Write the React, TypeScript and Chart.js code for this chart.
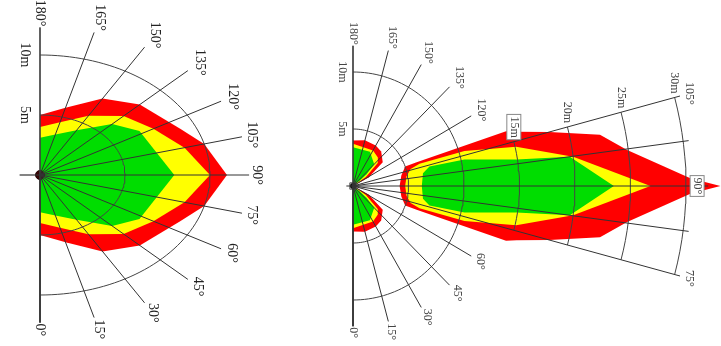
import React, { useEffect, useRef } from "react";
import { Chart, registerables } from "chart.js";

Chart.register(...registerables);

// ---------------- data (angles in degrees, 0° = down, 180° = up; distances in metres) ----------------
// Left diagram
const leftAngleTicks = [0, 15, 30, 45, 60, 75, 90, 105, 120, 135, 150, 165, 180];
const leftRingTicks = [5, 10];

const leftRedAngles = [180, 165, 150, 135, 115, 105, 90, 75, 65, 45, 30, 15, 0];
const leftRedRadii = [5.0, 5.8, 7.35, 8.3, 9.1, 10.0, 11.0, 10.0, 9.1, 8.3, 7.35, 5.8, 5.0];
const leftYellowAngles = [180, 165, 150, 135, 120, 105, 90, 75, 60, 45, 30, 15, 0];
const leftYellowRadii = [4.0, 4.55, 5.7, 6.95, 7.7, 8.8, 10.0, 8.8, 7.7, 6.95, 5.7, 4.55, 4.0];
const leftGreenAngles = [180, 165, 150, 135, 122, 90, 58, 45, 30, 15, 0];
const leftGreenRadii = [3.1, 3.5, 4.3, 6.0, 6.9, 7.9, 6.9, 6.0, 4.3, 3.5, 3.1];

// Right diagram
const rightNearAngleTicks = [0, 15, 30, 45, 60, 120, 135, 150, 165, 180];
const rightFarAngleTicks = [75, 105];
const rightFarGuideAngles = [82.5, 97.5];
const rightAxisAngle = [90];
const rightNearRingTicks = [5, 10];
const rightFarRingTicks = [15, 20, 25, 30];

const rightLobeRedAngles = [90, 102, 110, 110, 109.2, 107.9, 105, 101.4, 97.3, 91.3, 90, 88.7, 82.7, 78.6, 75, 72.1, 70.8, 70, 70, 78, 90];
const rightLobeRedRadii = [4.2, 4.45, 5.0, 6.1, 14.6, 15.5, 18.3, 22.7, 24.9, 30.4, 33.1, 30.4, 24.9, 22.7, 18.3, 15.5, 14.6, 6.1, 5.0, 4.45, 4.2];
const rightLobeYellowAngles = [90, 100, 106, 108, 107, 103.2, 97.4, 90, 82.6, 76.8, 73, 72, 74, 80, 90];
const rightLobeYellowRadii = [4.7, 4.9, 5.4, 6.3, 10.5, 15.1, 20.0, 26.8, 20.0, 15.1, 10.5, 6.3, 5.4, 4.9, 4.7];
const rightLobeGreenAngles = [90, 100, 104, 103, 99, 97.5, 90, 82.5, 81, 77, 76, 80, 90];
const rightLobeGreenRadii = [6.2, 6.4, 7.1, 10.3, 14.9, 19.7, 23.5, 19.7, 14.9, 10.3, 7.1, 6.4, 6.2];

const rightUpperRedAngles = [0, 180, 165, 150, 140, 128, 118, 0];
const rightUpperRedRadii = [0, 4.0, 4.15, 4.1, 3.95, 3.4, 1.6, 0];
const rightUpperYellowAngles = [0, 180, 150, 138, 132, 124, 0];
const rightUpperYellowRadii = [0, 3.7, 3.6, 3.35, 3.0, 1.4, 0];
const rightUpperGreenAngles = [0, 180, 153, 135, 130, 128, 0];
const rightUpperGreenRadii = [0, 3.4, 3.36, 2.7, 1.6, 0.8, 0];

const rightLowerRedAngles = [0, 0, 15, 30, 40, 52, 62, 0];
const rightLowerRedRadii = [0, 4.0, 4.15, 4.1, 3.95, 3.4, 1.6, 0];
const rightLowerYellowAngles = [0, 0, 30, 42, 48, 56, 0];
const rightLowerYellowRadii = [0, 3.7, 3.6, 3.35, 3.0, 1.4, 0];
const rightLowerGreenAngles = [0, 0, 27, 45, 50, 52, 0];
const rightLowerGreenRadii = [0, 3.4, 3.36, 2.7, 1.6, 0.8, 0];

// ---------------- layout (pixels) ----------------
const W = 721;
const H = 346;
const LEFT = { left: 0, width: 300, ox: 40, oy: 175, kx: 17, ky: 12, lineR: 12.3, stub: 1.2 };
const RIGHT = { left: 300, width: 421, ox: 53, oy: 186, kx: 11.1, ky: 11.4, lineR: 12.3, farR: 30.5, axisR: 32, stub: 0.6 };

const RED = "#ff0000";
const YELLOW = "#ffff00";
const GREEN = "#00dd00";

// ---------------- helpers ----------------
const RAD = Math.PI / 180;
const pt = (deg: number, r: number) => ({ x: r * Math.sin(deg * RAD), y: -r * Math.cos(deg * RAD) });
const polygon = (angles: number[], radii: number[]) => angles.map((a, i) => pt(a, radii[i]));
const arcPoints = (r: number, from: number, to: number) => {
  const n = Math.max(8, Math.round(Math.abs(to - from) / 2));
  const pts = [] as { x: number; y: number }[];
  for (let i = 0; i <= n; i++) pts.push(pt(from + ((to - from) * i) / n, r));
  return pts;
};
const lineDs = (data: any[], color: string, width = 1) => ({
  type: "line",
  data,
  borderColor: color,
  borderWidth: width,
  backgroundColor: color,
  pointRadius: 0,
  fill: false,
  tension: 0,
});
const zoneDs = (data: any[], color: string) => ({
  type: "line",
  data,
  borderColor: color,
  borderWidth: 0,
  backgroundColor: color,
  pointRadius: 0,
  fill: "shape",
  tension: 0,
});

type Lbl = { text: string; deg: number; r: number; mode: "radial" | "left" | "up" | "center"; gap: number; box?: boolean };

function labelPlugin(labels: Lbl[], fontSize: number, color: string) {
  return {
    id: "polarLabels",
    afterDatasetsDraw(chart: any) {
      const { ctx } = chart;
      const xs = chart.scales.x;
      const ys = chart.scales.y;
      const ox = xs.getPixelForValue(0);
      const oy = ys.getPixelForValue(0);
      ctx.save();
      ctx.font = `${fontSize}px "Liberation Serif", "Times New Roman", serif`;
      ctx.textAlign = "center";
      ctx.textBaseline = "middle";
      for (const l of labels) {
        const p = pt(l.deg, l.r);
        const ax = xs.getPixelForValue(p.x);
        const ay = ys.getPixelForValue(p.y);
        const w = ctx.measureText(l.text).width;
        const h = fontSize;
        let cx = ax;
        let cy = ay;
        if (l.mode === "radial") {
          const dx = ax - ox;
          const dy = ay - oy;
          const len = Math.hypot(dx, dy) || 1;
          const ux = dx / len;
          const uy = dy / len;
          const off = (h / 2) * Math.abs(ux) + (w / 2) * Math.abs(uy) + l.gap;
          cx = ax + ux * off;
          cy = ay + uy * off;
        } else if (l.mode === "left") {
          cx = ax - h / 2 - l.gap;
        } else if (l.mode === "up") {
          cy = ay - w / 2 - l.gap;
        }
        ctx.save();
        ctx.translate(cx, cy);
        ctx.rotate(Math.PI / 2);
        if (l.box) {
          ctx.fillStyle = "#ffffff";
          ctx.fillRect(-w / 2 - 2, -h / 2 - 1, w + 4, h + 2);
          ctx.strokeStyle = "#888888";
          ctx.lineWidth = 1;
          ctx.strokeRect(-w / 2 - 2, -h / 2 - 1, w + 4, h + 2);
        }
        ctx.fillStyle = color;
        ctx.fillText(l.text, 0, 0);
        ctx.restore();
      }
      ctx.restore();
    },
  };
}

function scalesFor(L: any) {
  return {
    x: { type: "linear", display: false, bounds: "data", min: -L.ox / L.kx, max: (L.width - L.ox) / L.kx },
    y: { type: "linear", display: false, bounds: "data", min: -(H - L.oy) / L.ky, max: L.oy / L.ky },
  };
}

const baseOptions = (L: any) => ({
  animation: false,
  responsive: false,
  events: [],
  layout: { padding: 0, autoPadding: false },
  plugins: { legend: { display: false }, tooltip: { enabled: false } },
  scales: scalesFor(L) as any,
});

function buildLeft(canvas: HTMLCanvasElement) {
  const L = LEFT;
  const datasets: any[] = [];
  leftAngleTicks.forEach((a) => datasets.push(lineDs([pt(a, 0), pt(a, L.lineR)], "#333333", 1)));
  datasets.push(lineDs([pt(270, L.stub), pt(90, 0)], "#333333", 1.2));
  datasets.push(lineDs([pt(0, L.lineR), pt(180, L.lineR)], "#555555", 1.3));
  leftRingTicks.forEach((r) => datasets.push(lineDs(arcPoints(r, 0, 180), "#444444", 1)));
  datasets.push({ type: "scatter", data: [pt(0, 0)], pointRadius: 4.5, backgroundColor: "#3a0505", borderColor: "#220000", borderWidth: 1 });
  datasets.push(zoneDs(polygon(leftGreenAngles, leftGreenRadii), GREEN));
  datasets.push(zoneDs(polygon(leftYellowAngles, leftYellowRadii), YELLOW));
  datasets.push(zoneDs(polygon(leftRedAngles, leftRedRadii), RED));

  const labels: Lbl[] = [
    ...leftAngleTicks.map((a) => ({ text: `${a}°`, deg: a, r: L.lineR, mode: "radial" as const, gap: 1 })),
    ...leftRingTicks.map((r) => ({ text: `${r}m`, deg: 180, r, mode: "left" as const, gap: 8 })),
  ];

  return new Chart(canvas, {
    type: "scatter",
    data: { datasets },
    options: baseOptions(L),
    plugins: [labelPlugin(labels, 14, "#222222")],
  } as any);
}

function buildRight(canvas: HTMLCanvasElement) {
  const R = RIGHT;
  const datasets: any[] = [];
  rightNearAngleTicks.forEach((a) => datasets.push(lineDs([pt(a, 0), pt(a, R.lineR)], "#333333", 1)));
  rightFarAngleTicks.forEach((a) => datasets.push(lineDs([pt(a, 0), pt(a, R.farR)], "#333333", 1)));
  rightFarGuideAngles.forEach((a) => datasets.push(lineDs([pt(a, 0), pt(a, R.farR)], "#333333", 1)));
  rightAxisAngle.forEach((a) => datasets.push(lineDs([pt(a + 180, R.stub), pt(a, R.axisR)], "#333333", 1.2)));
  datasets.push(lineDs([pt(0, R.lineR), pt(180, R.lineR)], "#444444", 1.3));
  rightNearRingTicks.forEach((r) => datasets.push(lineDs(arcPoints(r, 0, 180), "#444444", 1)));
  rightFarRingTicks.forEach((r) => datasets.push(lineDs(arcPoints(r, 75, 105), "#444444", 1)));
  datasets.push({ type: "scatter", data: [pt(0, 0)], pointRadius: 3, backgroundColor: "#111111", borderColor: "#111111", borderWidth: 0 });
  datasets.push({ type: "scatter", data: [pt(0, 0)], pointStyle: "rect", pointRadius: 4.5, backgroundColor: "rgba(0,0,0,0)", borderColor: "#555555", borderWidth: 1 });
  datasets.push(zoneDs(polygon(rightLobeGreenAngles, rightLobeGreenRadii), GREEN));
  datasets.push(zoneDs(polygon(rightUpperGreenAngles, rightUpperGreenRadii), GREEN));
  datasets.push(zoneDs(polygon(rightLowerGreenAngles, rightLowerGreenRadii), GREEN));
  datasets.push(zoneDs(polygon(rightLobeYellowAngles, rightLobeYellowRadii), YELLOW));
  datasets.push(zoneDs(polygon(rightUpperYellowAngles, rightUpperYellowRadii), YELLOW));
  datasets.push(zoneDs(polygon(rightLowerYellowAngles, rightLowerYellowRadii), YELLOW));
  datasets.push(zoneDs(polygon(rightLobeRedAngles, rightLobeRedRadii), RED));
  datasets.push(zoneDs(polygon(rightUpperRedAngles, rightUpperRedRadii), RED));
  datasets.push(zoneDs(polygon(rightLowerRedAngles, rightLowerRedRadii), RED));

  const labels: Lbl[] = [
    ...rightNearAngleTicks.map((a) => ({ text: `${a}°`, deg: a, r: R.lineR, mode: "radial" as const, gap: 1 })),
    ...rightFarAngleTicks.map((a) => ({ text: `${a}°`, deg: a, r: R.farR, mode: "radial" as const, gap: 1 })),
    ...rightAxisAngle.map((a) => ({ text: `${a}°`, deg: a, r: 31, mode: "center" as const, gap: 0, box: true })),
    ...rightNearRingTicks.map((r) => ({ text: `${r}m`, deg: 180, r, mode: "left" as const, gap: 5 })),
    ...rightFarRingTicks.map((r) => ({ text: `${r}m`, deg: 105, r, mode: "up" as const, gap: 4, box: r === 15 })),
  ];

  return new Chart(canvas, {
    type: "scatter",
    data: { datasets },
    options: baseOptions(R),
    plugins: [labelPlugin(labels, 12, "#444444")],
  } as any);
}

function PolarCanvas({ left, width, build }: { left: number; width: number; build: (c: HTMLCanvasElement) => Chart }) {
  const ref = useRef<HTMLCanvasElement | null>(null);
  useEffect(() => {
    if (!ref.current) return;
    const chart = build(ref.current);
    return () => chart.destroy();
  }, [build]);
  return (
    <canvas
      ref={ref}
      width={width}
      height={H}
      style={{ position: "absolute", left, top: 0, width, height: H, display: "block" }}
    />
  );
}

export default function App() {
  return (
    <div style={{ position: "fixed", left: 0, top: 0, width: W, height: H, background: "#ffffff", overflow: "hidden" }}>
      <PolarCanvas left={LEFT.left} width={LEFT.width} build={buildLeft} />
      <PolarCanvas left={RIGHT.left} width={RIGHT.width} build={buildRight} />
    </div>
  );
}
